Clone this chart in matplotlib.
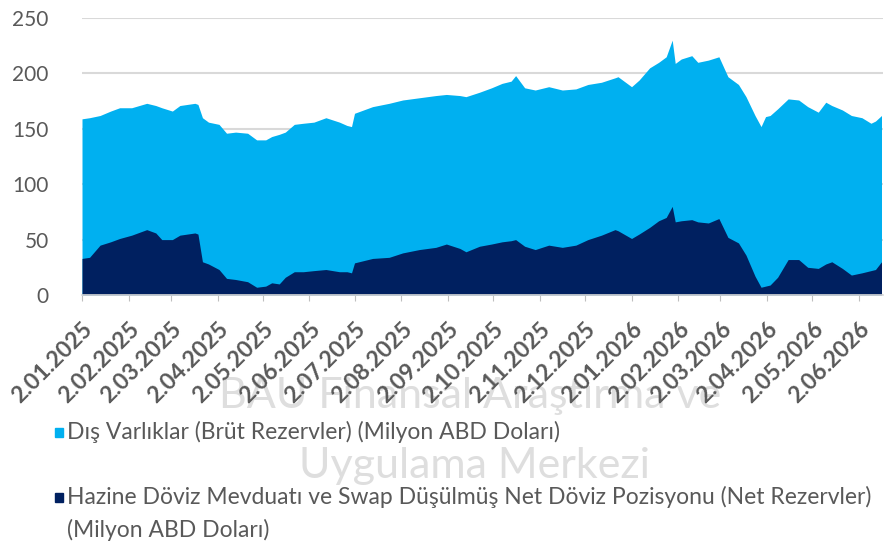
import matplotlib
matplotlib.use("Agg")
import matplotlib.pyplot as plt
import matplotlib.dates as mdates
from matplotlib.patches import Rectangle
import pandas as pd

plt.rcParams['font.family'] = ['Lato', 'DejaVu Sans']

# values (billion USD, shown as "Milyon")
dates = [
    "2025-01-02", "2025-01-07", "2025-01-14", "2025-01-21", "2025-01-27", "2025-02-04",
    "2025-02-14", "2025-02-20", "2025-02-24", "2025-03-03", "2025-03-08", "2025-03-18",
    "2025-03-20", "2025-03-23", "2025-03-27", "2025-04-03", "2025-04-08", "2025-04-14",
    "2025-04-22", "2025-04-28", "2025-05-04", "2025-05-08", "2025-05-13", "2025-05-17",
    "2025-05-23", "2025-05-29", "2025-06-05", "2025-06-13", "2025-06-22", "2025-06-27",
    "2025-06-30", "2025-07-02", "2025-07-14", "2025-07-25", "2025-08-03", "2025-08-14",
    "2025-08-25", "2025-09-01", "2025-09-10", "2025-09-14", "2025-09-23", "2025-10-01",
    "2025-10-08", "2025-10-14", "2025-10-17", "2025-10-23", "2025-10-30", "2025-11-08",
    "2025-11-17", "2025-11-26", "2025-12-04", "2025-12-13", "2025-12-22", "2025-12-24",
    "2026-01-02", "2026-01-07", "2026-01-14", "2026-01-20", "2026-01-25", "2026-01-29",
    "2026-01-31", "2026-02-04", "2026-02-11", "2026-02-15", "2026-02-22", "2026-03-01",
    "2026-03-07", "2026-03-14", "2026-03-19", "2026-03-25", "2026-03-29", "2026-04-01",
    "2026-04-04", "2026-04-09", "2026-04-16", "2026-04-23", "2026-04-29", "2026-05-06",
    "2026-05-11", "2026-05-15", "2026-05-22", "2026-05-28", "2026-06-04", "2026-06-10",
    "2026-06-13", "2026-06-17",
]
gross = [
    159, 160, 162, 166, 169, 169, 173, 171, 169, 166, 171, 173,
    172, 160, 156, 154, 146, 147, 146, 140, 140, 143, 145, 147,
    154, 155, 156, 160, 156, 153, 152, 164, 170, 173, 176, 178,
    180, 181, 180, 179, 183, 187, 191, 193, 198, 187, 185, 188,
    185, 186, 190, 192, 196, 197, 188, 194, 205, 210, 215, 230,
    209, 213, 216, 210, 212, 215, 197, 190, 179, 162, 152, 161,
    162, 168, 177, 176, 170, 165, 174, 171, 167, 162, 160, 155,
    157, 162,
]
net = [
    33, 34, 45, 48, 51, 54, 59, 56, 50, 50, 54, 56,
    55, 30, 28, 23, 15, 14, 12, 7, 8, 11, 10, 16,
    21, 21, 22, 23, 21, 21, 20, 29, 33, 34, 38, 41,
    43, 46, 42, 39, 44, 46, 48, 49, 50, 44, 41, 45,
    43, 45, 50, 54, 59, 58, 51, 55, 61, 67, 70, 80,
    66, 67, 68, 66, 65, 69, 52, 47, 36, 17, 7, 8,
    9, 16, 32, 32, 25, 24, 28, 30, 24, 18, 20, 22,
    23, 30,
]
tick_dates = pd.date_range("2025-01-01", "2026-06-01", freq="MS") + pd.Timedelta(days=1)
yticks = [0, 50, 100, 150, 200, 250]

label_gross = "Dış Varlıklar (Brüt Rezervler) (Milyon ABD Doları)"
label_net = "Hazine Döviz Mevduatı ve Swap Düşülmüş Net Döviz Pozisyonu (Net Rezervler)"
label_net2 = "(Milyon ABD Doları)"

c_gross = "#00B0F0"
c_net = "#002060"
grey = "#595959"

x = pd.to_datetime(dates)

fig = plt.figure(figsize=(8.86, 5.47), dpi=100)
ax = fig.add_axes([82 / 886, 1 - 295 / 547, 801 / 886, 277 / 547])
ax.patch.set_alpha(0)

# watermark behind the chart
wm = dict(color="#dedede", ha="center", va="center", zorder=-5,
          family=['Liberation Sans Narrow', 'Lato'])
fig.text(470 / 886, 1 - 396 / 547, "BAU Finansal Araştırma ve", fontsize=31, **wm)
fig.text(474 / 886, 1 - 466 / 547, "Uygulama Merkezi", fontsize=31, **wm)

ax.fill_between(x, 0, gross, color=c_gross, lw=0, zorder=2)
ax.fill_between(x, 0, net, color=c_net, lw=0, zorder=3)

ax.set_ylim(0, 250)
ax.set_yticks(yticks)
ax.set_xlim(pd.Timestamp("2025-01-02"), pd.Timestamp("2026-06-18"))
ax.grid(axis="y", color="#d9d9d9", lw=1.5, zorder=1)
ax.set_axisbelow(True)

ax.set_xticks(tick_dates)
ax.xaxis.set_major_formatter(mdates.DateFormatter("%-d.%m.%Y"))
for s in ["top", "right", "left"]:
    ax.spines[s].set_visible(False)
ax.spines["bottom"].set_color("#d9d9d9")
ax.spines["bottom"].set_linewidth(1.2)
ax.spines["bottom"].set_zorder(4)

ax.tick_params(axis="y", length=0, pad=24, labelsize=15, labelcolor=grey)
ax.tick_params(axis="x", length=4, color="#bfbfbf", pad=13, labelsize=16.5, labelcolor=grey)
for lab in ax.get_xticklabels():
    lab.set_rotation(45)
    lab.set_ha("right")
    lab.set_va("top")
    lab.set_rotation_mode("anchor")
    lab.set_fontweight("bold")

# legend drawn by hand so the square sits on the first line
fs = 16.5
fig.add_artist(Rectangle((55 / 886, 1 - 437 / 547), 8 / 886, 9 / 547, color=c_gross,
                         transform=fig.transFigure))
fig.text(67 / 886, 1 - 432 / 547, label_gross, fontsize=fs, color=grey, va="center")
fig.add_artist(Rectangle((55 / 886, 1 - 502 / 547), 8 / 886, 9 / 547, color=c_net,
                         transform=fig.transFigure))
fig.text(67 / 886, 1 - 497 / 547, label_net, fontsize=fs, color=grey, va="center")
fig.text(67 / 886, 1 - 530 / 547, label_net2, fontsize=fs, color=grey, va="center")

fig.savefig("out.png", dpi=100)
